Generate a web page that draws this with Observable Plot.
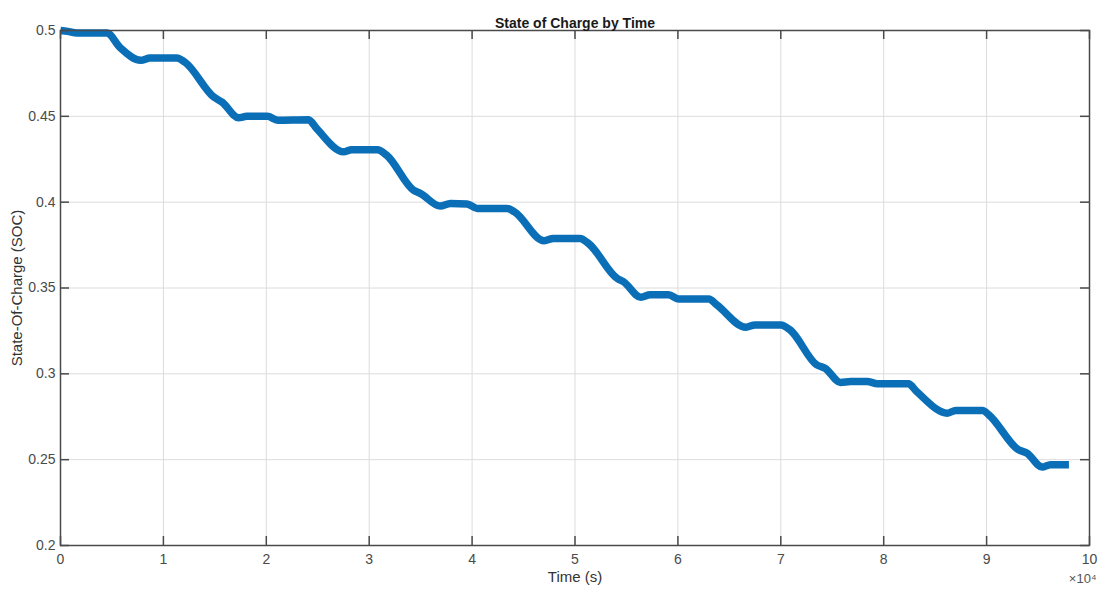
<!DOCTYPE html>
<html>
<head>
<meta charset="utf-8">
<script src="https://cdn.jsdelivr.net/npm/d3@7"></script>
<script src="https://cdn.jsdelivr.net/npm/@observablehq/plot@0.6"></script>
<style>
  html, body { margin: 0; padding: 0; background: #fff; }
  svg { display: block; }
</style>
</head>
<body>
<div id="chart"></div>
<script>
// Time in seconds
const times = [0, 700, 1600, 4500, 5800, 7800, 8700, 11300, 12100, 14900, 15700, 17300, 18100, 20100, 21100, 24100, 24900, 27500, 28300, 30800, 31700, 34300, 35000, 36900, 37900, 39500, 40500, 43400, 44100, 47000, 47900, 50500, 51300, 54100, 54700, 56400, 57300, 59100, 60100, 63000, 63800, 66600, 67500, 70000, 70900, 73500, 74300, 75800, 76800, 78400, 79400, 82400, 83200, 86200, 87000, 89600, 90200, 93100, 93900, 95400, 96200, 98000];
const soc = [0.5, 0.4995, 0.4985, 0.4985, 0.490, 0.4826, 0.484, 0.484, 0.4815, 0.4612, 0.4583, 0.4492, 0.450, 0.450, 0.4477, 0.448, 0.4428, 0.4293, 0.4306, 0.4306, 0.4273, 0.407, 0.405, 0.3977, 0.3992, 0.399, 0.3963, 0.3963, 0.3944, 0.3775, 0.3789, 0.3789, 0.376, 0.3556, 0.3537, 0.3446, 0.346, 0.346, 0.3436, 0.3436, 0.3401, 0.3271, 0.3285, 0.3285, 0.3256, 0.3052, 0.3033, 0.2950, 0.2955, 0.2955, 0.2942, 0.2942, 0.2897, 0.2771, 0.2787, 0.2787, 0.2762, 0.2558, 0.2539, 0.2457, 0.2471, 0.2471];
const xTicks = [0, 10000, 20000, 30000, 40000, 50000, 60000, 70000, 80000, 90000, 100000];
const yTicks = [0.2, 0.25, 0.3, 0.35, 0.4, 0.45, 0.5];
const titleText = "State of Charge by Time";
const xLabel = "Time (s)";
const yLabel = "State-Of-Charge (SOC)";
const xExponent = "×10⁴";

const data = times.map((t, i) => ({t, soc: soc[i]}));

const W = 1100, H = 589;
const mL = 60, mR = 11, mT = 30, mB = 44;
const fw = W - mL - mR, fh = H - mT - mB;
const tk = 9;
const axisColor = "#4a4a4a";
const font = "'Liberation Sans', Arial, Helvetica, sans-serif";

const chart = Plot.plot({
  width: W, height: H,
  marginLeft: mL, marginRight: mR, marginTop: mT, marginBottom: mB,
  style: {fontFamily: font, background: "#fff"},
  x: {domain: [0, 100000]},
  y: {domain: [0.2, 0.5]},
  marks: [
    Plot.gridX(xTicks, {stroke: "#dcdcdc", strokeOpacity: 1}),
    Plot.gridY(yTicks, {stroke: "#dcdcdc", strokeOpacity: 1}),
    Plot.line(data, {x: "t", y: "soc", stroke: "#0b6fb8", strokeWidth: 7.5, curve: "monotone-x", strokeLinejoin: "round", strokeLinecap: "butt"}),
    Plot.frame({stroke: axisColor, strokeWidth: 1.5}),
    // inward ticks
    Plot.tickX(xTicks, {x: d => d, insetTop: fh - tk, stroke: axisColor, strokeWidth: 1.5}),
    Plot.tickX(xTicks, {x: d => d, insetBottom: fh - tk, stroke: axisColor, strokeWidth: 1.5}),
    Plot.tickY(yTicks, {y: d => d, insetRight: fw - tk, stroke: axisColor, strokeWidth: 1.5}),
    Plot.tickY(yTicks, {y: d => d, insetLeft: fw - tk, stroke: axisColor, strokeWidth: 1.5}),
    Plot.axisX(xTicks, {tickSize: 0, tickPadding: 9, tickFormat: d => String(d / 10000), fontSize: 14, color: "#4a4a4a", label: null}),
    Plot.axisY(yTicks, {tickSize: 0, tickPadding: 5, tickFormat: d => String(+d.toFixed(2)), fontSize: 14, color: "#4a4a4a", label: null}),
    Plot.text([titleText], {frameAnchor: "top", dy: -12, fontSize: 14, fontWeight: "bold", fill: "#1a1a1a"}),
    Plot.text([xLabel], {frameAnchor: "bottom", dy: 36, fontSize: 15, fill: "#333"}),
    Plot.text([yLabel], {frameAnchor: "left", dx: -43, rotate: -90, textAnchor: "middle", fontSize: 15, fill: "#333"}),
    Plot.text([xExponent], {frameAnchor: "bottom-right", dy: 37, dx: 7, textAnchor: "end", fontSize: 13, fill: "#555"})
  ]
});
document.getElementById("chart").appendChild(chart);
</script>
</body>
</html>
